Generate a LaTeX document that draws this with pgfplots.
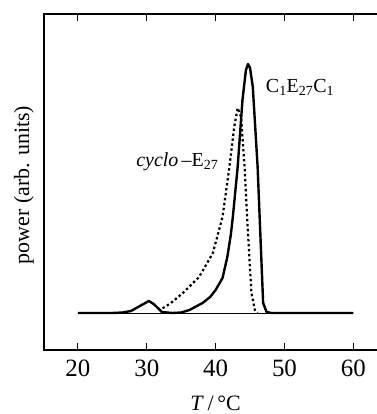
\documentclass[border=0pt]{standalone}
\usepackage{pgfplots}
\pgfplotsset{compat=1.18}
\usepackage{fontspec}
\setmainfont{Liberation Serif}
\begin{document}
\begin{tikzpicture}
\path[use as bounding box] (-44bp,-64bp) rectangle (333bp,350bp);
\begin{axis}[
  at={(0,0)}, anchor=south west,
  scale only axis, width=333bp, height=336bp,
  xmin=15.07, xmax=63.44, ymin=0, ymax=336,
  axis line style={line width=1.3bp},
  xtick={20,30,40,50,60}, ytick=\empty,
  tick align=inside, major tick length=7bp,
  every tick/.style={line width=1.1bp, black},
  xticklabel style={font=\fontsize{25}{28}\selectfont, yshift=-6bp},
  /pgf/number format/assume math mode=true,
  clip=false,
]
\addplot[black, line width=0.8bp] coordinates {(20,37) (60,37)};
\addplot[black, line width=2.4bp, line join=round] coordinates {
(20,37) (25,37) (26.5,37.5) (27.7,39) (29,44) (30.3,49) (31,46) (32.2,38) (33.7,37)
(35,37.5) (36.2,40) (38.1,47) (39.2,53) (40,60) (41,72) (41.7,93) (42.2,115) (42.5,133) (43.2,183)
(43.9,250) (44.4,280) (44.7,286) (45,282) (45.4,263) (46.1,183)
(46.9,47) (47.4,38) (48.1,37) (60,37)};
\addplot[black, line width=2.2bp, dash pattern=on 2.4bp off 2.6bp] coordinates {
(32.3,41.7) (33.5,47) (35.2,56.7) (37.6,73) (39.6,97) (41.0,133)
(42.0,183) (42.7,223) (43.2,242) (43.7,233) (44.2,183) (44.7,117)
(45.2,57) (45.7,40) (46.1,37)};
\node[anchor=west, font=\fontsize{20}{24}\selectfont] at (axis cs:46.8,263)
  {C\textsubscript{1}E\textsubscript{27}C\textsubscript{1}};
\node[anchor=east, font=\fontsize{20}{24}\selectfont] at (axis cs:40.9,188)
  {\textit{cyclo}\,–E\textsubscript{27}};
\node[font=\fontsize{22}{26}\selectfont] at (axis cs:40,-53) {\textit{T}\,/\,°C};
\node[rotate=90, font=\fontsize{22}{26}\selectfont] at (axis cs:12.13,165) {power (arb. units)};
\end{axis}
\draw[white, line width=3bp] (333bp,1.2bp) -- (333bp,334.8bp);
\end{tikzpicture}
\end{document}
